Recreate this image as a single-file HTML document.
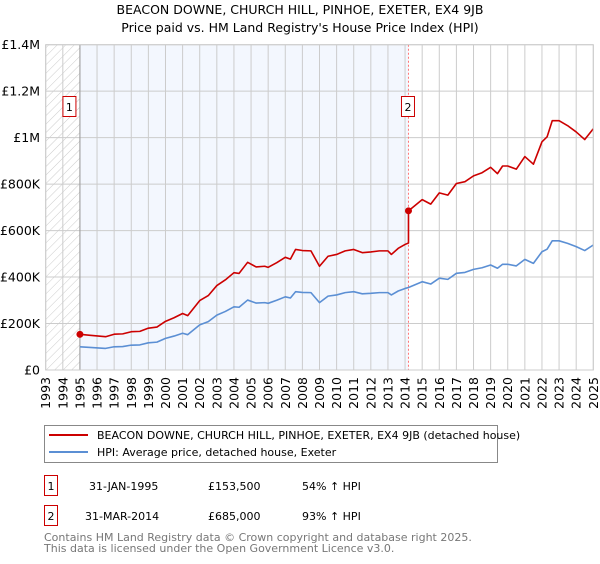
<!DOCTYPE html>
<html><head><meta charset="utf-8"><style>
body{margin:0;background:#fff;font-family:"DejaVu Sans","Liberation Sans",sans-serif;}
svg text{font-family:"DejaVu Sans","Liberation Sans",sans-serif;}
</style></head><body>
<svg id="c" width="600" height="560" viewBox="0 0 600 560" xmlns="http://www.w3.org/2000/svg">
<defs><pattern id="hatch" width="6" height="6" patternUnits="userSpaceOnUse" patternTransform="rotate(45)"><line x1="0" y1="0" x2="0" y2="6" stroke="#ccc" stroke-width="1"/></pattern></defs>
<text x="300" y="14" text-anchor="middle" font-size="12.5" fill="#000">BEACON DOWNE, CHURCH HILL, PINHOE, EXETER, EX4 9JB</text>
<text x="300" y="32" text-anchor="middle" font-size="12.5" fill="#000">Price paid vs. HM Land Registry's House Price Index (HPI)</text>
<g id="plot"></g>
<g>
<rect x="44.5" y="425.5" width="453" height="37" fill="#fff" stroke="#888"/>
<line x1="49" y1="435" x2="88" y2="435" stroke="#cc0000" stroke-width="2"/>
<text x="97" y="439" font-size="11">BEACON DOWNE, CHURCH HILL, PINHOE, EXETER, EX4 9JB (detached house)</text>
<line x1="49" y1="452" x2="88" y2="452" stroke="#5b8fd4" stroke-width="2"/>
<text x="97" y="456" font-size="11">HPI: Average price, detached house, Exeter</text>
</g>
<g font-size="11">
<rect x="44.5" y="475.5" width="13" height="20" fill="#fff" stroke="#cc0000"/>
<text x="51" y="490" text-anchor="middle">1</text>
<text x="89" y="490">31-JAN-1995</text>
<text x="208" y="490">£153,500</text>
<text x="302" y="490">54% ↑ HPI</text>
<rect x="44.5" y="505.5" width="13" height="20" fill="#fff" stroke="#cc0000"/>
<text x="51" y="520" text-anchor="middle">2</text>
<text x="85" y="520">31-MAR-2014</text>
<text x="208" y="520">£685,000</text>
<text x="302" y="520">93% ↑ HPI</text>
</g>
<text x="44" y="541" font-size="11" fill="#777">Contains HM Land Registry data © Crown copyright and database right 2025.</text>
<text x="44" y="552" font-size="11" fill="#777">This data is licensed under the Open Government Licence v3.0.</text>
</svg>
<script>
const hpiYears=[1995.0,1995.6,1996.5,1997,1997.5,1998,1998.5,1999,1999.5,2000,2000.5,2001,2001.3,2002,2002.5,2003,2003.5,2004,2004.3,2004.8,2005.3,2005.8,2006,2006.5,2007,2007.3,2007.6,2008,2008.5,2009,2009.5,2010,2010.5,2011,2011.5,2012,2012.5,2013,2013.2,2013.6,2014,2014.2,2015,2015.5,2016,2016.5,2017,2017.5,2018,2018.5,2019,2019.4,2019.7,2020,2020.5,2021,2021.5,2022,2022.3,2022.6,2023,2023.5,2024,2024.5,2025];
const hpiValues=[99.7,97,93,100,101,107,108,117,120,136,146,158,152,194,208,236,252,272,270,301,288,290,287,300,315,310,337,334,333,290,318,323,333,337,328,330,333,333,323,340,351,355,380,370,395,390,416,420,433,440,452,438,455,455,448,476,459,509,520,556,556,545,531,514,538];
const saleYears=[1995.0,2014.2];
const salePrices=[153.5,685];
const saleLabels=['1','2'];
const yTicks=[0,200,400,600,800,1000,1200,1400];
const yTickLabels=['£0','£200K','£400K','£600K','£800K','£1M','£1.2M','£1.4M'];
const xYears=[1993,1994,1995,1996,1997,1998,1999,2000,2001,2002,2003,2004,2005,2006,2007,2008,2009,2010,2011,2012,2013,2014,2015,2016,2017,2018,2019,2020,2021,2022,2023,2024,2025];

const X0=45.7,X1=593.3,Y0=370,Y1=44.7,ymax=1400;
const xs=y=>X0+(y-1993)/(2025-1993)*(X1-X0);
const ys=v=>Y0-v/ymax*(Y0-Y1);
const NS='http://www.w3.org/2000/svg';
const g=document.getElementById('plot');
function mk(t,a,p){const e=document.createElementNS(NS,t);for(const k in a)e.setAttribute(k,a[k]);(p||g).appendChild(e);return e;}

let r=mk('rect',{x:X0,y:Y1,width:X1-X0,height:Y0-Y1,fill:'#fff'});


r=mk('rect',{x:X0,y:Y1,width:xs(saleYears[0])-X0,height:Y0-Y1,fill:'url(#hatch)'});


r=mk('rect',{x:xs(saleYears[0]),y:Y1,width:xs(saleYears[1])-xs(saleYears[0]),height:Y0-Y1,fill:'#eef3fd',opacity:0.7});



xYears.forEach(yr=>{
  const l=mk('line',{x1:xs(yr),x2:xs(yr),y1:Y1,y2:Y0,stroke:'#ccc','stroke-width':1});
  
  
  const t=mk('text',{x:0,y:0,'font-size':12.5,'text-anchor':'end',transform:`translate(${xs(yr)+4.5},377) rotate(-90)`});
  t.textContent=yr;
  
  
});
yTicks.forEach((v,i)=>{
  const l=mk('line',{x1:X0,x2:X1,y1:ys(v),y2:ys(v),stroke:'#ccc','stroke-width':1});
  
  
  const t=mk('text',{x:40,y:ys(v)+4.5,'font-size':12.5,'text-anchor':'end'});
  t.textContent=yTickLabels[i];
  
  
});
let ax=mk('line',{x1:xs(saleYears[0]),x2:xs(saleYears[0]),y1:Y1,y2:Y0,stroke:'#999','stroke-width':1});


ax=mk('line',{x1:xs(saleYears[1]),x2:xs(saleYears[1]),y1:Y1,y2:Y0,stroke:'#f77','stroke-width':1,'stroke-dasharray':'2,2'});



function interpHpi(y){for(let i=0;i<hpiYears.length-1;i++){if(y>=hpiYears[i]&&y<=hpiYears[i+1]){const f=(y-hpiYears[i])/(hpiYears[i+1]-hpiYears[i]);return hpiValues[i]+f*(hpiValues[i+1]-hpiValues[i]);}}return hpiValues[hpiValues.length-1];}
const ratios=saleYears.map((y,i)=>salePrices[i]/interpHpi(y));
let redPts=[];
hpiYears.forEach((y,i)=>{
  let k=-1;saleYears.forEach((sy,j)=>{if(y>=sy-1e-9)k=j;});
  if(k<0)return;
  if(k>0&&Math.abs(y-saleYears[k])<1e-9) redPts.push([xs(y),ys(hpiValues[i]*ratios[k-1])]);
  redPts.push([xs(y),ys(hpiValues[i]*ratios[k])]);
});
const blue=mk('polyline',{points:hpiYears.map((y,i)=>xs(y)+','+ys(hpiValues[i])).join(' '),fill:'none',stroke:'#5b8fd4','stroke-width':1.6,'stroke-linejoin':'round'});


const red=mk('polyline',{points:redPts.map(p=>p.join(',')).join(' '),fill:'none',stroke:'#cc0000','stroke-width':1.6,'stroke-linejoin':'round'});


saleYears.forEach((y,i)=>{
  const c=mk('circle',{cx:xs(y),cy:ys(salePrices[i]),r:3.5,fill:'#cc0000'});
  
  
  const bx=xs(y)-(i===0?10:0)-7;
  const b=mk('rect',{x:bx,y:96.5,width:13,height:20,fill:'#fff',stroke:'#cc0000'});
  
  
  const t=mk('text',{x:bx+6.5,y:111,'font-size':11,'text-anchor':'middle'});
  t.textContent=saleLabels[i];
  
  
});
const fr=mk('rect',{x:X0,y:Y1,width:X1-X0,height:Y0-Y1,fill:'none',stroke:'#ccc'});


</script>
</body></html>
